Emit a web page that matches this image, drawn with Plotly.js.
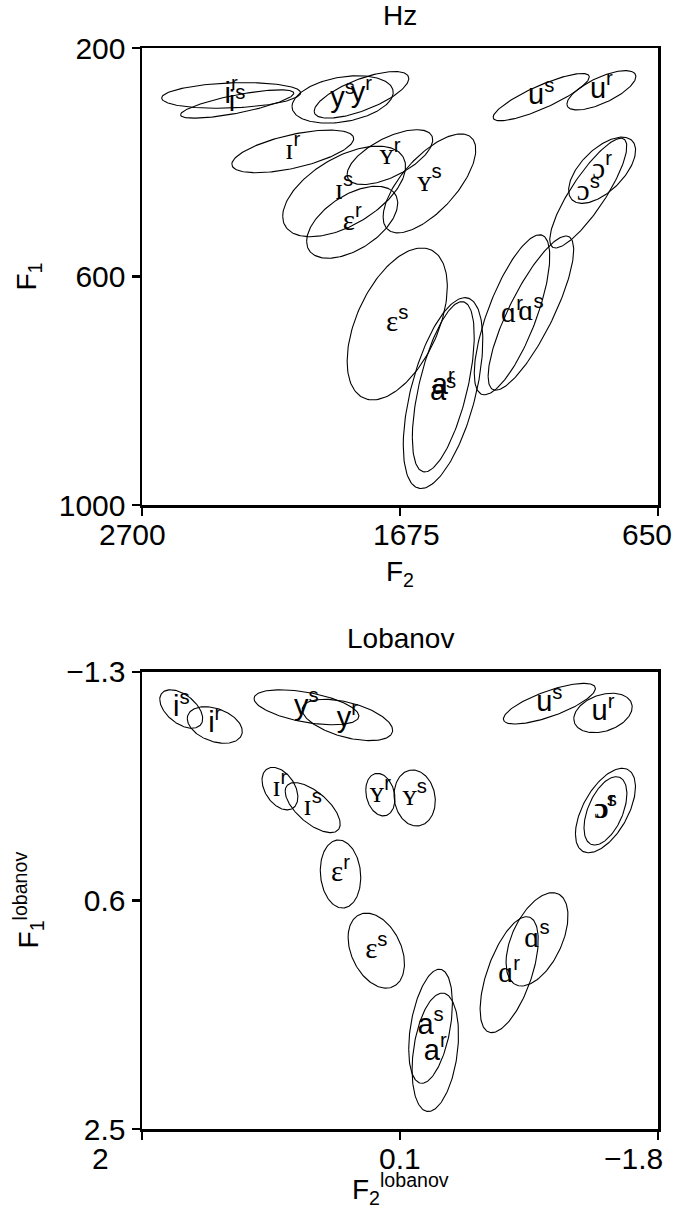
<!DOCTYPE html>
<html>
<head>
<meta charset="utf-8">
<script src="https://cdn.plot.ly/plotly-3.0.1.min.js"></script>
<style>
html,body{margin:0;padding:0;background:#ffffff;}
#chart{width:679px;height:1212px;}
</style>
</head>
<body>
<div id="chart"></div>
<script>
// ---------- data ----------
const vowels = ['i','i','y','y','u','u','ɪ','ɪ','ʏ','ʏ','ε','ε','ɔ','ɔ','a','a','ɑ','ɑ'];
const groups = ['s','r','s','r','s','r','s','r','s','r','s','r','s','r','s','r','s','r'];

// Hz panel: mean F2, mean F1, F2 spread, F1 spread, F1~F2 correlation
const hzF2   = [2322, 2346, 1903, 1828, 1114,  875, 1897, 2101, 1558, 1715, 1686, 1865,  927,  872, 1504, 1503, 1155, 1230];
const hzF1   = [ 298,  283,  290,  282,  286,  274,  451,  381,  437,  391,  683,  505,  454,  414,  804,  793,  664,  667];
const hzF2sd = [ 225,  276,  201,  188,  191,  137,  244,  242,  184,  170,  199,  181,  153,  133,  158,  123,  170,  150];
const hzF1sd = [24.8, 22.4, 41.5, 40.8, 41.4, 34.4, 79.3, 37.3, 86.6,   48,  133,   63,   96,   58,  167,  149,  135,  140];
const hzR    = [0.76, 0.20, 0.30, 0.70, 0.85, 0.70, 0.55, 0.60, 0.68, 0.63, 0.49, 0.53, 0.85, 0.60, 0.55, 0.60, 0.82, 0.73];

// Lobanov panel
const lobF2   = [1.711, 1.464, 0.789, 0.487, -1.000, -1.395, 0.743, 0.984, -0.008, 0.2445, 0.2746, 0.538, -1.413, -1.413, -0.125, -0.160, -0.909, -0.704];
const lobF1   = [-0.992, -0.859, -1.006, -0.901, -1.036, -0.959, -0.172, -0.330, -0.252, -0.280, 1.017, 0.380, -0.148, -0.145, 1.646, 1.862, 0.923, 1.217];
const lobF2sd = [0.158, 0.2025, 0.386, 0.333, 0.339, 0.215, 0.2025, 0.132, 0.152, 0.1075, 0.2075, 0.149, 0.221, 0.158, 0.161, 0.171, 0.228, 0.214];
const lobF1sd = [0.160, 0.152, 0.1455, 0.172, 0.169, 0.164, 0.208, 0.177, 0.233, 0.177, 0.312, 0.283, 0.351, 0.284, 0.474, 0.492, 0.388, 0.482];
const lobR    = [-0.5, -0.35, -0.5, -0.5, 0.75, 0.3, -0.65, -0.4, -0.1, -0.2, -0.35, -0.1, 0.56, 0.5, 0.4, 0.3, 0.5, 0.6];

// axes
const hzXTicks = [2700, 1675, 650];
const hzXTickText = ['2700', '1675', '650'];
const hzYTicks = [200, 600, 1000];
const hzYTickText = ['200', '600', '1000'];
const lobXTicks = [2, 0.1, -1.8];
const lobXTickText = ['2', '0.1', '\u22121.8'];
const lobYTicks = [-1.3, 0.6, 2.5];
const lobYTickText = ['\u22121.3', '0.6', '2.5'];

// ---------- style ----------
const SANS = 'Liberation Sans, Arial, sans-serif';
const SERIF = "Liberation Serif, DejaVu Serif, serif";
const serifGlyphs = ['ɪ','ʏ','ε','ɔ','ɑ'];
const topDomain = [0.5772, 1];
const botDomain = [0, 0.4228];
const hzXLabelShift = [-10, 6, -11];
const lobXLabelShift = [-42, 0, -25];
const TICK_SIZE = 30;

function ellipse(cx, cy, sx, sy, r) {
  const xs = [], ys = [];
  const q = Math.sqrt(1 - r * r);
  for (let k = 0; k <= 160; k++) {
    const t = 2 * Math.PI * k / 160;
    xs.push(cx + sx * Math.cos(t));
    ys.push(cy + sy * (r * Math.cos(t) + q * Math.sin(t)));
  }
  return {xs, ys};
}

function labelHtml(v, g) {
  const base = serifGlyphs.includes(v)
    ? '<span style="font-family:' + SERIF + '">' + v + '</span>'
    : v;
  return base + '<sup>' + g + '</sup>';
}

const traces = [];
function addPanel(mx, my, sx, sy, rr, xa, ya) {
  for (let i = 0; i < vowels.length; i++) {
    const e = ellipse(mx[i], my[i], sx[i], sy[i], rr[i]);
    traces.push({
      type: 'scatter', mode: 'lines', x: e.xs, y: e.ys, xaxis: xa, yaxis: ya,
      line: {color: '#000', width: 1.1}, hoverinfo: 'skip'
    });
  }
  traces.push({
    type: 'scatter', mode: 'text', x: mx, y: my, xaxis: xa, yaxis: ya,
    text: vowels.map((v, i) => labelHtml(v, groups[i])),
    textposition: 'middle center',
    textfont: {family: SANS, size: 29, color: '#000'},
    hoverinfo: 'skip'
  });
}
addPanel(hzF2, hzF1, hzF2sd, hzF1sd, hzR, 'x', 'y');
addPanel(lobF2, lobF1, lobF2sd, lobF1sd, lobR, 'x2', 'y2');

const axisCommon = {
  showgrid: false, zeroline: false, showline: true, linecolor: '#000', linewidth: 2.5,
  mirror: true, ticks: 'outside', ticklen: 8, tickwidth: 2.5, tickcolor: '#000',
  tickfont: {family: SANS, size: TICK_SIZE, color: '#000'}, tickmode: 'array', fixedrange: true
};

const annotations = [];
function xTickLabels(vals, texts, shifts, xref, dom) {
  vals.forEach((v, i) => annotations.push({
    x: v, xref: xref, y: dom[0], yref: 'paper', text: texts[i], showarrow: false,
    xanchor: 'center', yanchor: 'middle', xshift: shifts[i], yshift: -29,
    font: {family: SANS, size: TICK_SIZE, color: '#000'}
  }));
}
xTickLabels(hzXTicks, hzXTickText, hzXLabelShift, 'x', topDomain);
xTickLabels(lobXTicks, lobXTickText, lobXLabelShift, 'x2', botDomain);

function titles(main, xt, yt, dom, xtShift) {
  annotations.push({x: 0.5, xref: 'paper', y: dom[1], yref: 'paper', text: main, showarrow: false,
    xanchor: 'center', yanchor: 'middle', yshift: 33, font: {family: SANS, size: 28, color: '#000'}});
  annotations.push({x: 0.5, xref: 'paper', y: dom[0], yref: 'paper', text: xt, showarrow: false,
    xanchor: 'center', yanchor: 'middle', yshift: xtShift, font: {family: SANS, size: 28, color: '#000'}});
  annotations.push({x: 0, xref: 'paper', y: (dom[0] + dom[1]) / 2, yref: 'paper', text: yt, showarrow: false,
    textangle: -90, xanchor: 'center', yanchor: 'middle', xshift: -113, font: {family: SANS, size: 28, color: '#000'}});
}
titles('Hz', 'F<sub>2</sub>', 'F<sub>1</sub>', topDomain, -68);
titles('Lobanov', 'F<sub>2</sub><sup>lobanov</sup>', 'F<sub>1</sub><sup>lobanov</sup>', botDomain, -60);

const layout = {
  width: 679, height: 1212,
  margin: {l: 142, r: 21, t: 48, b: 83},
  paper_bgcolor: '#fff', plot_bgcolor: '#fff',
  showlegend: false,
  xaxis: Object.assign({}, axisCommon, {domain: [0, 1], anchor: 'y', range: [2700, 650],
    tickvals: hzXTicks, showticklabels: false}),
  yaxis: Object.assign({}, axisCommon, {domain: topDomain, anchor: 'x', range: [1000, 200],
    tickvals: hzYTicks, ticktext: hzYTickText}),
  xaxis2: Object.assign({}, axisCommon, {domain: [0, 1], anchor: 'y2', range: [2, -1.8],
    tickvals: lobXTicks, showticklabels: false}),
  yaxis2: Object.assign({}, axisCommon, {domain: botDomain, anchor: 'x2', range: [2.5, -1.3],
    tickvals: lobYTicks, ticktext: lobYTickText}),
  annotations: annotations
};

Plotly.newPlot('chart', traces, layout, {displayModeBar: false, staticPlot: true});
</script>
</body>
</html>
